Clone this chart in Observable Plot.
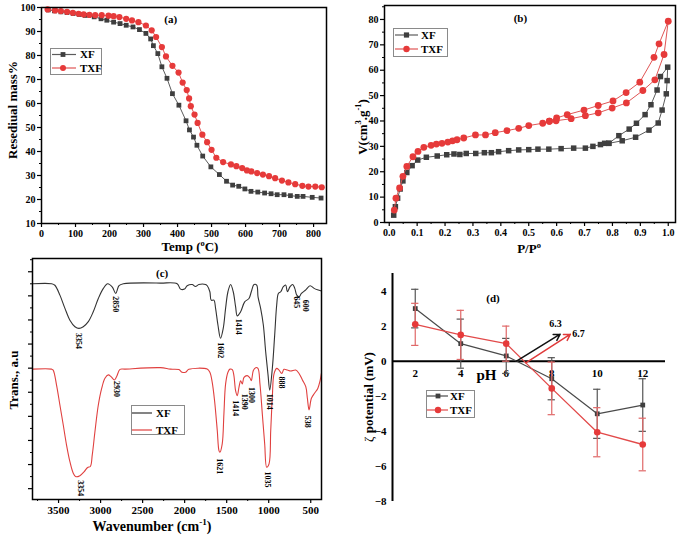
<!DOCTYPE html>
<html><head><meta charset="utf-8">
<script src="https://cdn.jsdelivr.net/npm/d3@7"></script>
<script src="https://cdn.jsdelivr.net/npm/@observablehq/plot@0.6"></script>
<style>
html,body{margin:0;padding:0;background:#fff;}
#root{position:relative;width:685px;height:541px;overflow:hidden;background:#fff;font-family:"Liberation Serif","Times New Roman",serif;font-weight:bold;}
.panel{position:absolute;overflow:hidden;}
.t{position:absolute;white-space:nowrap;color:#000;line-height:1;font-weight:bold;}
.rot{transform:translate(-50%,-50%) rotate(-90deg);}
.hc{transform:translate(-50%,0);}
.leg{position:absolute;box-sizing:border-box;border:1px solid #8a8a8a;background:#fff;}
sup{font-size:0.65em;vertical-align:super;line-height:0;}
</style></head><body><div id="root"></div>
<script>
// ---------- DATA ----------
// (a) TGA
const tgaXF_T = [20,38,57,75,93,111,129,155,175,192,212,231,249,269,288,307,321,329,342,354,369,385,404,425,435,447,457,474,498,523,544,562,580,598,616,636,656,675,693,713,732,752,769,796,822];
const tgaXF_M = [99.0,98.6,98.2,97.9,97.5,97.1,96.7,96.1,95.3,94.7,93.9,93.3,92.6,91.9,90.8,89.2,86.9,84.1,80.8,75.3,70.5,64.1,59.3,52.8,49.0,46.0,42.6,38.1,33.6,30.4,27.6,26.0,25.5,24.4,23.4,23.1,22.7,22.4,22.0,22.0,21.6,21.3,21.3,20.9,20.6];
const tgaTXF_T = [18,40,57,75,92,109,124,141,158,177,197,212,229,249,266,285,307,324,337,354,366,385,403,415,427,434,439,450,459,473,487,500,514,534,557,573,590,604,617,634,651,669,687,707,726,746,767,785,805,824];
const tgaTXF_M = [99.2,98.8,98.5,98.2,97.8,97.4,97.1,96.9,96.8,96.8,96.6,96.4,96.0,95.3,94.6,93.9,92.5,90.5,87.7,83.5,79.6,75.7,72.9,68.7,65.6,62.1,58.9,55.4,51.9,47.0,43.9,40.7,37.4,35.6,34.6,33.9,33.1,32.1,31.7,31.0,30.4,29.7,28.9,27.9,27.1,26.4,25.7,25.4,25.4,25.1];
const tgaXDomain = [0, 838], tgaYDomain = [10, 100];
const tgaXTicks = [0,100,200,300,400,500,600,700,800];
const tgaYTicks = [10,20,30,40,50,60,70,80,90,100];

// (b) N2 isotherms (adsorption then desorption)
const betXF_P = [0.016,0.022,0.030,0.039,0.049,0.063,0.082,0.102,0.133,0.172,0.206,0.232,0.253,0.276,0.31,0.341,0.366,0.392,0.428,0.464,0.5,0.533,0.572,0.616,0.661,0.703,0.730,0.757,0.772,0.787,0.835,0.883,0.931,0.964,0.978,0.993,0.996,0.998,0.972,0.960,0.938,0.917,0.886,0.860,0.823,0.787];
const betXF_V = [2.9,6.2,9.6,13.2,16.4,19.7,22.4,24.6,25.7,26.2,26.7,27.0,26.8,27.2,27.2,27.5,27.5,27.9,28.3,28.6,28.7,28.9,28.9,29.1,29.3,29.3,30.0,30.7,31.2,31.2,32.2,33.6,36.4,39.2,44.3,50.7,55.9,61.2,57.5,52.2,46.4,42.5,39.1,36.8,34.2,31.2];
const betTXF_P = [0.018,0.024,0.037,0.049,0.063,0.085,0.103,0.124,0.150,0.169,0.189,0.21,0.227,0.243,0.267,0.309,0.345,0.38,0.422,0.464,0.5,0.55,0.574,0.598,0.652,0.703,0.749,0.799,0.85,0.909,0.952,0.985,1.0,0.967,0.949,0.898,0.849,0.802,0.749,0.698,0.638,0.600,0.574];
const betTXF_V = [4.9,9.6,13.6,18.2,22.1,25.9,28.0,29.6,30.4,30.9,31.2,31.7,32.2,32.6,33.3,34.5,34.5,35.4,36.2,37.1,38.2,39.1,39.9,40.1,40.9,42.1,43.2,45.1,47.1,52.0,56.2,66.2,79.3,70.4,65.1,55.3,51.2,47.9,46.1,44.3,42.5,41.2,39.9];
const betXDomain = [-0.017, 1.026], betYDomain = [0, 85.5];
const betXTicks = [0,0.1,0.2,0.3,0.4,0.5,0.6,0.7,0.8,0.9,1.0];
const betYTicks = [0,10,20,30,40,50,60,70,80];

// (c) FTIR
const ftirXF_W = [3810,3583,3544,3484,3424,3365,3305,3258,3206,3146,3087,3027,2967,2916,2860,2820,2781,2729,2288,2089,2049,2002,1970,1910,1871,1831,1751,1731,1700,1684,1652,1632,1604,1573,1541,1513,1485,1453,1422,1394,1374,1334,1286,1235,1207,1175,1143,1127,1096,1064,1036,1008,988,957,929,905,885,857,826,798,778,746,714,690,666,639,611,559,508,460,420,373];
const ftirXF_T = [85.0,85.0,84.4,80.3,74.8,69.9,67.2,66.5,67.2,69.3,73.4,78.9,83.1,85.0,83.6,81.0,84.2,85.0,85.3,85.0,82.8,82.8,84.2,84.7,83.9,84.7,84.7,84.2,81.7,78.2,78.2,74.8,67.9,62.4,66.5,74.8,81.7,84.7,81.7,75.5,71.7,73.4,77.5,78.9,81.7,84.7,84.5,79.6,74.8,67.9,56.8,47.2,40.9,49.9,63.7,76.2,81.0,81.7,83.8,84.5,81.7,83.8,84.7,83.1,80.3,79.6,81.0,82.5,84.2,83.1,82.5,82.0];
const ftirTXF_W = [3810,3583,3564,3524,3484,3444,3405,3365,3325,3297,3246,3194,3154,3122,3099,3067,3027,2987,2948,2908,2876,2836,2809,2769,2709,2288,2169,2069,2030,1990,1950,1732,1700,1672,1644,1612,1592,1581,1553,1533,1513,1485,1461,1433,1414,1394,1374,1354,1334,1314,1294,1255,1223,1207,1183,1155,1128,1104,1076,1048,1024,996,976,957,937,905,877,845,818,778,738,679,639,599,559,540,520,492,455,416,388,373];
const ftirTXF_T = [49.6,49.6,49.2,43.0,34.7,26.4,18.1,11.2,6.4,5.0,5.4,7.1,8.8,9.2,14.0,23.7,34.7,41.6,45.8,47.2,46.5,45.1,46.5,49.5,49.6,50.2,49.6,49.4,48.3,48.3,49.5,49.6,48.3,44.1,36.5,24.1,15.8,15.1,18.6,31.0,43.4,48.3,49.6,49.4,46.9,40.7,38.6,42.0,44.8,43.4,46.2,46.9,45.9,44.8,49.0,50.2,49.9,43.4,31.0,18.6,8.9,10.3,24.1,37.9,47.6,49.9,49.2,47.8,49.5,49.2,48.8,49.2,47.8,45.1,42.3,37.5,32.7,37.5,39.6,41.6,44.9,47.8];
const ftirPeakText = ["3354","2850","1602","1414","645","600","1014","888","2930","3354","1621","1414","1390","1300","1035","538"];
const ftirPeakW    = [3262,2816,1573,1354,667,567,992,845,2809,3242,1581,1394,1286,1207,1016,539];
const ftirPeakT    = [64.6,79.8,60.8,70.5,79.8,78.4,39.4,46.5,44.7,3.5,12.6,36.7,39.4,42.2,7.1,30.3];
const ftirXDomain = [3810, 372], ftirYDomain = [-4.5, 95.5];
const ftirXTicks = [3500,3000,2500,2000,1500,1000,500];

// (d) zeta potential
const zetaPH = [2,4,6,8,10,12];
const zetaXF = [3.0,1.0,0.3,-1.0,-3.0,-2.5];
const zetaXFErr = [1.1,1.4,1.0,1.2,1.4,1.5];
const zetaTXF = [2.1,1.5,1.0,-1.55,-4.05,-4.75];
const zetaTXFErr = [1.2,1.4,1.0,1.5,1.4,1.5];
const zetaXDomain = [1, 13], zetaYDomain = [-8, 5];
const zetaYTicks = [-8,-6,-4,-2,0,2,4];
const pzcText = ["6.3","6.7"];
const pzcX1 = [6.45,6.86], pzcY1 = [0,-0.09], pzcX2 = [8.37,8.82], pzcY2 = [1.54,1.54];
const pzcTextX = [8.17,8.9], pzcTextY = [2.15,1.58];
const pzcColor = ["#111","#e03a3a"];

// ---------- HELPERS ----------
const SERIF = '"Liberation Serif","Times New Roman",serif';
const GRAY = "#3f3f3f", GRAYLINE = "#5c5c5c", RED = "#e63a3a", REDLINE = "#e05555";
const root = document.getElementById("root");
const pairs = (X, Y, s) => X.map((x, i) => ({x, y: Y[i], s}));
const style = {fontFamily: SERIF, fontSize: "10px", fontWeight: "bold", background: "white", color: "black"};
const blank = () => "";

function panel(left, top, w, h) {
  const d = document.createElement("div");
  d.className = "panel";
  Object.assign(d.style, {left: left + "px", top: top + "px", width: w + "px", height: h + "px"});
  root.append(d);
  return d;
}
function label(parent, html, x, y, size, cls) {
  const d = document.createElement("div");
  d.className = "t " + (cls || "");
  d.innerHTML = html;
  Object.assign(d.style, {left: x + "px", top: y + "px", fontSize: size + "px"});
  parent.append(d);
  return d;
}
function legend(left, top, w, h, rows) {
  const box = document.createElement("div");
  box.className = "leg";
  Object.assign(box.style, {left: left + "px", top: top + "px", width: w + "px", height: h + "px"});
  const svg = d3.create("svg").attr("width", w).attr("height", h).style("position", "absolute").style("left", "-1px").style("top", "-1px");
  for (const r of rows) {
    svg.append("line").attr("x1", r.x1).attr("x2", r.x2).attr("y1", r.y).attr("y2", r.y).attr("stroke", r.line).attr("stroke-width", 1.2);
    if (r.symbol === "square") svg.append("rect").attr("x", r.mx - r.size / 2).attr("y", r.y - r.size / 2).attr("width", r.size).attr("height", r.size).attr("fill", r.fill);
    if (r.symbol === "circle") svg.append("circle").attr("cx", r.mx).attr("cy", r.y).attr("r", r.size / 2).attr("fill", r.fill);
    svg.append("text").attr("x", r.tx).attr("y", r.y).attr("dy", "0.35em").attr("font-family", SERIF).attr("font-weight", "bold").attr("font-size", r.fs || 11).text(r.label);
  }
  box.append(svg.node());
  root.append(box);
}

// ---------- (a) ----------
{
  const p = panel(0, 0, 340, 256);
  const xf = pairs(tgaXF_T, tgaXF_M), txf = pairs(tgaTXF_T, tgaTXF_M);
  p.append(Plot.plot({
    width: 340, height: 250, marginLeft: 41, marginRight: 14, marginTop: 7, marginBottom: 27, style,
    x: {domain: tgaXDomain}, y: {domain: tgaYDomain},
    marks: [
      Plot.axisX({ticks: tgaXTicks, tickSize: 4, tickPadding: 2, label: null, fontSize: 10, strokeWidth: 1.2}),
      Plot.axisX({ticks: tgaXTicks.slice(0, -1).map(d => d + 50), tickSize: 2, tickFormat: blank, label: null}),
      Plot.axisY({ticks: tgaYTicks, tickSize: 4, tickPadding: 2, label: null, fontSize: 10, strokeWidth: 1.2}),
      Plot.axisY({ticks: tgaYTicks.slice(0, -1).map(d => d + 5), tickSize: 2, tickFormat: blank, label: null}),
      Plot.line(xf, {x: "x", y: "y", stroke: GRAYLINE, strokeWidth: 1}),
      Plot.dot(xf, {x: "x", y: "y", symbol: "square", r: 2.7, fill: GRAY}),
      Plot.line(txf, {x: "x", y: "y", stroke: REDLINE, strokeWidth: 1}),
      Plot.dot(txf, {x: "x", y: "y", r: 3.1, fill: RED}),
      Plot.text([{x: 380, y: 95.2, t: "(a)"}], {x: "x", y: "y", text: "t", fontSize: 11}),
      Plot.frame({stroke: "black", strokeWidth: 1.5})
    ]
  }));
  label(p, "Resediual mass%", 12, 110, 13, "rot");
  label(p, "Temp (<sup>o</sup>C)", 190, 240, 13, "hc");
}

// ---------- (b) ----------
{
  const p = panel(340, 0, 345, 258);
  const xf = pairs(betXF_P, betXF_V), txf = pairs(betTXF_P, betTXF_V);
  p.append(Plot.plot({
    width: 345, height: 258, marginLeft: 44, marginRight: 10, marginTop: 5, marginBottom: 36, style,
    x: {domain: betXDomain}, y: {domain: betYDomain},
    marks: [
      Plot.axisX({ticks: betXTicks, tickFormat: d3.format(".1f"), tickSize: 4, tickPadding: 2, label: null, fontSize: 10, strokeWidth: 1.2}),
      Plot.axisX({ticks: betXTicks.slice(0, -1).map(d => d + 0.05), tickSize: 2, tickFormat: blank, label: null}),
      Plot.axisY({ticks: betYTicks, tickSize: 4, tickPadding: 2, label: null, fontSize: 10, strokeWidth: 1.2}),
      Plot.axisY({ticks: betYTicks.map(d => d + 5), tickSize: 2, tickFormat: blank, label: null}),
      Plot.line(xf, {x: "x", y: "y", stroke: GRAYLINE, strokeWidth: 1}),
      Plot.dot(xf, {x: "x", y: "y", symbol: "square", r: 3.1, fill: GRAY}),
      Plot.line(txf, {x: "x", y: "y", stroke: REDLINE, strokeWidth: 1}),
      Plot.dot(txf, {x: "x", y: "y", r: 3.4, fill: RED}),
      Plot.text([{x: 0.47, y: 80.4, t: "(b)"}], {x: "x", y: "y", text: "t", fontSize: 11}),
      Plot.frame({stroke: "black", strokeWidth: 1.5})
    ]
  }));
  label(p, "V(cm<sup>3</sup>.g<sup>-1</sup>)", 22, 127, 13, "rot");
  label(p, "P/P<sup>o</sup>", 189, 242, 13, "hc");
}

// ---------- (c) ----------
{
  const p = panel(0, 256, 340, 285);
  const xf = pairs(ftirXF_W, ftirXF_T), txf = pairs(ftirTXF_W, ftirTXF_T);
  const peaks = ftirPeakText.map((t, i) => ({t, x: ftirPeakW[i], y: ftirPeakT[i]}));
  p.append(Plot.plot({
    width: 340, height: 285, marginLeft: 32, marginRight: 19, marginTop: 2, marginBottom: 42, style,
    x: {domain: ftirXDomain}, y: {domain: ftirYDomain},
    marks: [
      Plot.axisX({ticks: ftirXTicks, tickFormat: d3.format("d"), tickSize: 4, tickPadding: 3, label: null, fontSize: 11, strokeWidth: 1.2}),
      Plot.axisX({ticks: ftirXTicks.slice(0, -1).map(d => d + 250), tickSize: 2, tickFormat: blank, label: null}),
      Plot.axisY({ticks: d3.range(0, 91, 10), tickSize: 4, tickFormat: blank, label: null, strokeWidth: 1.2}),
      Plot.axisY({ticks: d3.range(5, 96, 10), tickSize: 2, tickFormat: blank, label: null}),
      Plot.line(xf, {x: "x", y: "y", stroke: "#333", strokeWidth: 1.1, curve: "catmull-rom"}),
      Plot.line(txf, {x: "x", y: "y", stroke: "#e0403f", strokeWidth: 1.1, curve: "catmull-rom"}),
      Plot.text(peaks, {x: "x", y: "y", text: "t", rotate: 90, textAnchor: "start", fontSize: 8}),
      Plot.text([{x: 2268, y: 89.1, t: "(c)"}], {x: "x", y: "y", text: "t", fontSize: 11}),
      Plot.frame({stroke: "black", strokeWidth: 1.5})
    ]
  }));
  label(p, "Trans., a.u", 13, 124, 13, "rot");
  label(p, "Wavenumber (cm<sup>-1</sup>)", 152, 264, 14, "hc");
}

// ---------- (d) ----------
{
  const p = panel(340, 258, 345, 283);
  const xf = zetaPH.map((x, i) => ({x, y: zetaXF[i], e: zetaXFErr[i]}));
  const txf = zetaPH.map((x, i) => ({x, y: zetaTXF[i], e: zetaTXFErr[i]}));
  const arrows = pzcText.map((t, i) => ({t, x1: pzcX1[i], y1: pzcY1[i], x2: pzcX2[i], y2: pzcY2[i], tx: pzcTextX[i], ty: pzcTextY[i], c: pzcColor[i]}));
  const errMarks = (data, color) => [
    Plot.ruleX(data, {x: "x", y1: d => d.y - d.e, y2: d => d.y + d.e, stroke: color, strokeWidth: 1.2}),
    Plot.ruleY(data, {y: d => d.y + d.e, x1: d => d.x - 0.16, x2: d => d.x + 0.16, stroke: color, strokeWidth: 1.2}),
    Plot.ruleY(data, {y: d => d.y - d.e, x1: d => d.x - 0.16, x2: d => d.x + 0.16, stroke: color, strokeWidth: 1.2})
  ];
  p.append(Plot.plot({
    width: 345, height: 283, marginLeft: 52, marginRight: 20, marginTop: 15, marginBottom: 40, style,
    x: {domain: zetaXDomain, axis: null}, y: {domain: zetaYDomain},
    marks: [
      Plot.axisY({ticks: zetaYTicks, tickSize: 0, tickPadding: 6, label: null, fontSize: 11}),
      Plot.ruleX([zetaXDomain[0]], {y1: zetaYDomain[0], y2: zetaYDomain[1], stroke: "black", strokeWidth: 2}),
      Plot.ruleY([0], {x1: zetaXDomain[0], x2: zetaXDomain[1], stroke: "black", strokeWidth: 2}),
      Plot.text(zetaPH, {x: d => d, y: 0, dy: 12, text: d => String(d), fontSize: 11}),
      Plot.text([{x: 5.13, y: -0.8, t: "pH"}], {x: "x", y: "y", text: "t", fontSize: 15}),
      ...errMarks(xf, "#555"),
      Plot.line(xf, {x: "x", y: "y", stroke: "#4a4a4a", strokeWidth: 1.2}),
      Plot.dot(xf, {x: "x", y: "y", symbol: "square", r: 2.7, fill: GRAY}),
      ...errMarks(txf, "#e06868"),
      Plot.line(txf, {x: "x", y: "y", stroke: "#e24a4a", strokeWidth: 1.3}),
      Plot.dot(txf, {x: "x", y: "y", r: 3.3, fill: RED}),
      Plot.arrow(arrows, {x1: "x1", y1: "y1", x2: "x2", y2: "y2", stroke: "c", strokeWidth: 1.5, headLength: 7}),
      Plot.text(arrows.slice(0, 1), {x: "tx", y: "ty", text: "t", fontSize: 10}),
      Plot.text(arrows.slice(1), {x: "tx", y: "ty", text: "t", fontSize: 10, textAnchor: "start"}),
      Plot.text([{x: 5.42, y: 3.57, t: "(d)"}], {x: "x", y: "y", text: "t", fontSize: 11})
    ]
  }));
  label(p, "<span style='font-weight:normal'>ζ</span> potential (mV)", 28, 139, 13, "rot");
}

// ---------- legends ----------
legend(50, 48, 52, 27, [
  {label: "XF", y: 6.5, x1: 2, x2: 26, mx: 13, tx: 30, line: GRAYLINE, fill: GRAY, symbol: "square", size: 4.8},
  {label: "TXF", y: 20, x1: 2, x2: 26, mx: 13, tx: 30, line: REDLINE, fill: RED, symbol: "circle", size: 6}
]);
legend(393, 28, 55, 29, [
  {label: "XF", y: 7, x1: 2, x2: 25, mx: 13.5, tx: 28, line: GRAYLINE, fill: GRAY, symbol: "square", size: 5.2},
  {label: "TXF", y: 21, x1: 2, x2: 25, mx: 13.5, tx: 28, line: REDLINE, fill: RED, symbol: "circle", size: 6.4}
]);
legend(131, 405, 54, 30, [
  {label: "XF", y: 8, x1: 1, x2: 21, tx: 25, line: "#333"},
  {label: "TXF", y: 25, x1: 1, x2: 21, tx: 25, line: "#e0403f"}
]);
legend(426, 390, 49, 28, [
  {label: "XF", y: 6, x1: 1, x2: 22, mx: 12, tx: 24, line: "#4a4a4a", fill: GRAY, symbol: "square", size: 4.8},
  {label: "TXF", y: 20, x1: 1, x2: 22, mx: 12, tx: 24, line: "#e24a4a", fill: RED, symbol: "circle", size: 6.4}
]);
</script></body></html>
